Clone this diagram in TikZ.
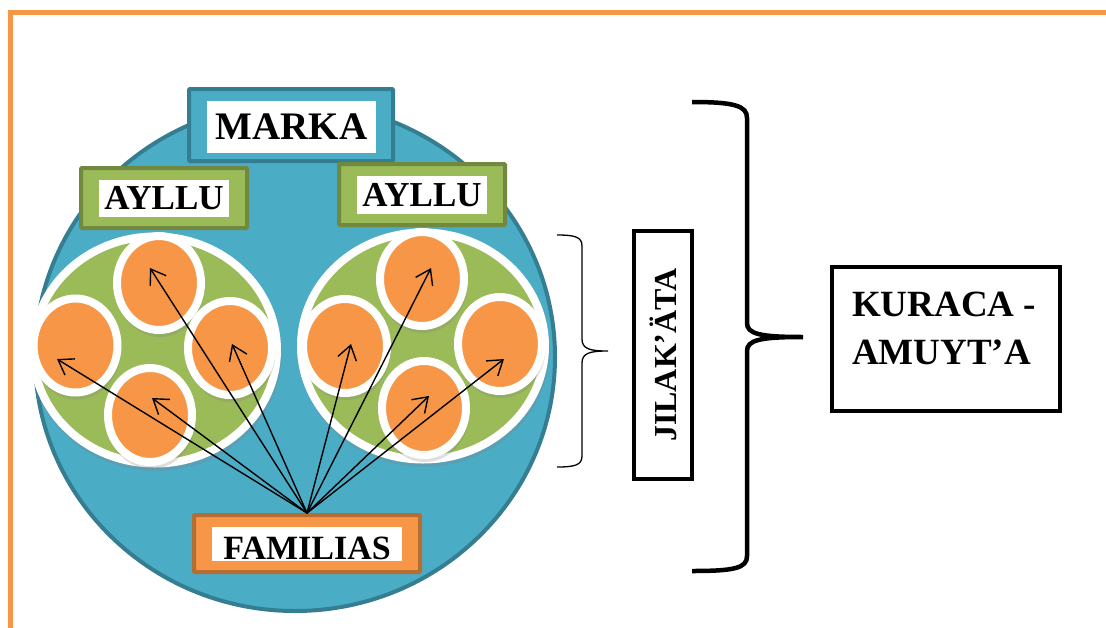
\documentclass[tikz,border=0pt]{standalone}
\usepackage{fontspec}
\setmainfont{Liberation Serif}
\usetikzlibrary{shapes.geometric,arrows.meta,shadows,positioning}

\definecolor{markablue}{HTML}{4BACC6}
\definecolor{markaedge}{HTML}{357D91}
\definecolor{ayllugreen}{HTML}{9BBB59}
\definecolor{aylluedge}{HTML}{71893F}
\definecolor{famorange}{HTML}{F79646}
\definecolor{famedge}{HTML}{B66D31}

\begin{document}
\begin{tikzpicture}[x=10pt,y=10pt]
\tikzstyle{every node}+=[inner sep=0pt]
\tikzstyle{bigbox}=[rectangle, line width=4pt, rounded corners=1pt]
\tikzstyle{whitebox}=[rectangle, fill=white]
\tikzstyle{family}=[ellipse, fill=famorange, draw=white, line width=8pt, minimum width=84pt, minimum height=94pt, drop shadow={opacity=0.25, shadow scale=1.06, shadow xshift=1pt, shadow yshift=-4pt}]
\tikzstyle{group}=[ellipse, fill=ayllugreen, draw=white, line width=8pt, minimum width=244pt, minimum height=227pt, drop shadow={opacity=0.25, shadow scale=1.03, shadow xshift=1pt, shadow yshift=-4pt}]
\tikzstyle{link}=[black, line width=1.4pt, -{Straight Barb[length=14pt,width=19pt]}]
\useasboundingbox (0,0) rectangle (110.6,-62.7);
\draw [famorange, line width=5pt] (111,-1.2) -- (1.05,-1.2) -- (1.05,-63);
\node [ellipse, draw=markaedge, fill=markablue, line width=4pt, minimum width=520pt, minimum height=508pt] (marka circle) at (29.5,-35.7) {};
\node [bigbox, draw=markaedge, fill=markablue, minimum width=204pt, minimum height=72pt] (markabox) at (29.1,-12.5) {};
\node [whitebox, minimum width=169pt, minimum height=52pt, font=\bfseries\fontsize{39}{39}\selectfont] (marka) at (29.15,-12.7) {MARKA};
\node [bigbox, draw=aylluedge, fill=ayllugreen, minimum width=166pt, minimum height=60pt] (ayllubox a) at (16.4,-19.8) {};
\node [whitebox, minimum width=130pt, minimum height=37pt, font=\bfseries\fontsize{35}{35}\selectfont] (ayllu a) at (16.4,-19.85) {AYLLU};
\node [bigbox, draw=aylluedge, fill=ayllugreen, minimum width=166pt, minimum height=61pt] (ayllubox b) at (42.2,-19.45) {};
\node [whitebox, minimum width=130pt, minimum height=38pt, font=\bfseries\fontsize{35}{35}\selectfont] (ayllu b) at (42.2,-19.5) {AYLLU};
\node [group] (group a) at (15.5,-35) {};
\node [group] (group b) at (42.3,-34.6) {};
\node [family] (fa1) at (15.9,-28.3) {};
\node [family] (fa2) at (7.55,-34.55) {};
\node [family] (fa3) at (23,-34.8) {};
\node [family] (fa4) at (15,-41.5) {};
\node [family] (fb1) at (42.2,-27.9) {};
\node [family] (fb2) at (34.5,-34.6) {};
\node [family] (fb4) at (42.4,-40.8) {};
\node [family] (fb3) at (50,-34.4) {};
\coordinate (ta1) at (15,-26.8);
\coordinate (ta2) at (5.7,-35.9);
\coordinate (ta3) at (23.2,-34.4);
\coordinate (ta4) at (15.2,-39.8);
\coordinate (tb1) at (43.1,-26.8);
\coordinate (tb2) at (35.1,-34.4);
\coordinate (tb3) at (50.4,-35.9);
\coordinate (tb4) at (42.9,-39.6);
\node [bigbox, draw=famedge, fill=famorange, minimum width=226pt, minimum height=57pt] (fambox) at (30.7,-54.35) {};
\node [whitebox, minimum width=190pt, minimum height=34pt, text height=30.5pt, font=\bfseries\fontsize{34}{34}\selectfont] (fam) at (30.7,-54.4) {FAMILIAS};
\foreach \t in {ta1,ta2,ta3,ta4,tb1,tb2,tb3,tb4}
  \draw [link] (fambox.north) -- (\t);
\draw [black, line width=1.3pt] (55.7,-23.5) .. controls (57.5,-23.5) and (58.2,-23.7) .. (58.2,-24.6) -- (58.2,-33.9) .. controls (58.2,-34.9) and (59,-35.1) .. (60.8,-35.1) .. controls (59,-35.1) and (58.2,-35.3) .. (58.2,-36.3) -- (58.2,-45.6) .. controls (58.2,-46.5) and (57.5,-46.7) .. (55.7,-46.7);
\node [draw, line width=4pt, rotate=90, minimum width=248pt, minimum height=58pt, font=\bfseries\fontsize{32}{32}\selectfont] (jilata) at (66.3,-35.5) {JILAK’ÄTA};
\draw [black, line width=4.5pt] (69.2,-10.2) .. controls (73.5,-10.2) and (74.7,-10.6) .. (74.7,-11.8) -- (74.7,-32.3) .. controls (74.7,-33.4) and (76,-33.7) .. (80.3,-33.7) .. controls (76,-33.7) and (74.7,-34) .. (74.7,-35.1) -- (74.7,-55.6) .. controls (74.7,-56.8) and (73.5,-57.1) .. (69.2,-57.1);
\node [draw, line width=4pt, minimum width=228pt, minimum height=144pt] (kuraca) at (94.6,-33.9) {};
\node [align=left, font=\bfseries\fontsize{37}{48}\selectfont, below right=27pt and 22pt of kuraca.north west] (kuraca text) {KURACA -\\AMUYT’A};
\end{tikzpicture}
\end{document}
